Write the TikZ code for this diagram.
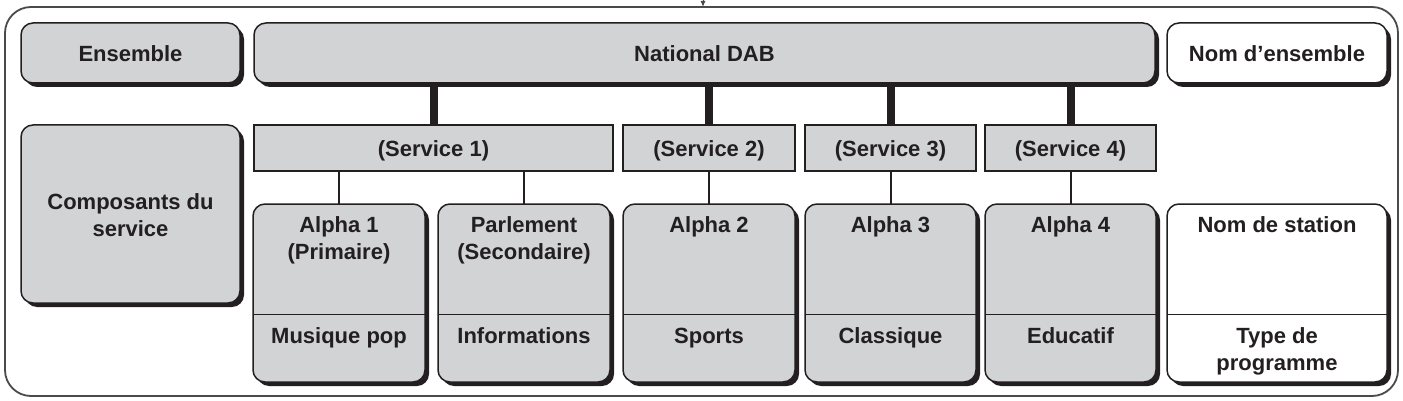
\documentclass[tikz,border=0pt]{standalone}
\usepackage{fontspec}
\setmainfont{Liberation Sans}
\usetikzlibrary{shadows,arrows.meta}
\definecolor{boxgrey}{HTML}{D1D3D4}
\definecolor{ink}{HTML}{231F20}
\definecolor{framegrey}{HTML}{4A4A4A}
\begin{document}
\begin{tikzpicture}[x=1pt,y=-1pt,
  every node/.style={inner sep=0pt, outer sep=0pt},
  lbl/.style={anchor=base, align=center, font=\bfseries\fontsize{22}{27}\selectfont, text=ink},
  panel/.style={draw=ink, line width=1.5pt, rounded corners=12pt,
    general shadow={fill=ink, shadow xshift=4pt, shadow yshift=-4pt}},
  greypanel/.style={panel, fill=boxgrey},
  whitepanel/.style={panel, fill=white},
  servbox/.style={draw=ink, line width=2pt, fill=boxgrey},
  trunk/.style={draw=ink, line width=8pt},
  branch/.style={draw=ink, line width=2pt},
  divider/.style={draw=ink, line width=1pt},
]
\useasboundingbox (0,0) rectangle (1403,401);

% outer frame and the incoming feed
\node[draw=framegrey, line width=1.8pt, rounded corners=26pt,
      minimum width=1393pt, minimum height=389pt] (frame) at (701.5,201.5) {};
\coordinate (feed) at (703,0);
\draw[framegrey, line width=1pt, -{Latex[length=6pt,width=5pt]}] (feed) -- (feed |- frame.north);

% top row
\node[greypanel, minimum width=219pt, minimum height=60pt] (ens) at (130.5,53) {};
\node[greypanel, minimum width=901pt, minimum height=60pt] (dab) at (704.5,53) {};
\node[whitepanel, minimum width=220pt, minimum height=60pt] (ensname) at (1277,53) {};

% left caption
\node[greypanel, minimum width=219pt, minimum height=178pt] (comp) at (130.5,214) {};

% services
\node[servbox, minimum width=359pt, minimum height=46pt] (s1) at (433.5,148) {};
\node[servbox, minimum width=172pt, minimum height=46pt] (s2) at (709,148) {};
\node[servbox, minimum width=171pt, minimum height=46pt] (s3) at (890.5,148) {};
\node[servbox, minimum width=171pt, minimum height=46pt] (s4) at (1070.5,148) {};

% service components
\node[greypanel, minimum width=172pt, minimum height=178pt] (a1) at (339,293) {};
\node[greypanel, minimum width=172pt, minimum height=178pt] (pa) at (524,293) {};
\node[greypanel, minimum width=172pt, minimum height=178pt] (a2) at (709,293) {};
\node[greypanel, minimum width=171pt, minimum height=178pt] (a3) at (890.5,293) {};
\node[greypanel, minimum width=171pt, minimum height=178pt] (a4) at (1070.5,293) {};
\node[whitepanel, minimum width=220pt, minimum height=178pt] (st) at (1277,293) {};

% dividers between name and programme type
\coordinate (div) at (0,314);
\foreach \b in {a1,pa,a2,a3,a4,st}
  \draw[divider] (\b.west |- div) -- (\b.east |- div);

% connectors
\foreach \s in {s1,s2,s3,s4}
  \draw[trunk] (dab.south -| \s.north) -- (\s.north);
\draw[branch] (s1.south -| a1.north) -- (a1.north);
\draw[branch] (s1.south -| pa.north) -- (pa.north);
\draw[branch] (s2.south) -- (a2.north);
\draw[branch] (s3.south) -- (a3.north);
\draw[branch] (s4.south) -- (a4.north);

% labels (two-line labels are placed by their last baseline)
\node[lbl] (t-ens) at (130.5,62) {Ensemble};
\node[lbl] (t-dab) at (704.5,62) {National DAB};
\node[lbl] (t-ensname) at (1277,62) {Nom d’ensemble};
\node[lbl] (t-comp) at (130.5,236) {Composants du\\service};
\node[lbl] (t-s1) at (433.5,157) {(Service 1)};
\node[lbl] (t-s2) at (709,157) {(Service 2)};
\node[lbl] (t-s3) at (890.5,157) {(Service 3)};
\node[lbl] (t-s4) at (1070.5,157) {(Service 4)};
\node[lbl] (t-a1) at (339,259) {Alpha 1\\(Primaire)};
\node[lbl] (t-pa) at (524,259) {Parlement\\(Secondaire)};
\node[lbl] (t-a2) at (709,232) {Alpha 2};
\node[lbl] (t-a3) at (890.5,232) {Alpha 3};
\node[lbl] (t-a4) at (1070.5,232) {Alpha 4};
\node[lbl] (t-st) at (1277,232) {Nom de station};
\node[lbl] (g-a1) at (339,343) {Musique pop};
\node[lbl] (g-pa) at (524,343) {Informations};
\node[lbl] (g-a2) at (709,343) {Sports};
\node[lbl] (g-a3) at (890.5,343) {Classique};
\node[lbl] (g-a4) at (1070.5,343) {Educatif};
\node[lbl] (g-st) at (1277,370) {Type de\\programme};
\end{tikzpicture}
\end{document}
